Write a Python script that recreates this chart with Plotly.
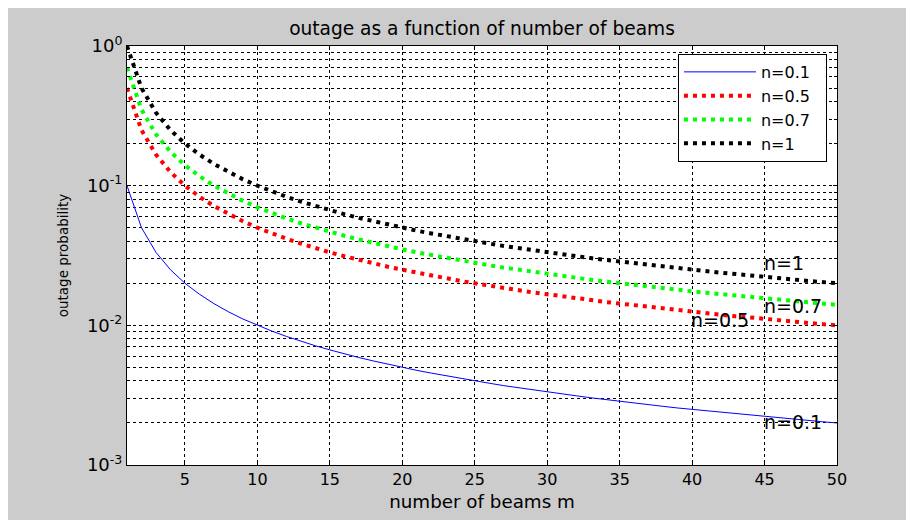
import math
import plotly.graph_objects as go

m = list(range(1, 51))
p_n01 = [0.1, 0.05, 0.0333, 0.025, 0.02, 0.0167, 0.0143, 0.0125, 0.0111, 0.01,
         0.00909, 0.00833, 0.00769, 0.00714, 0.00667, 0.00625, 0.00588, 0.00556, 0.00526, 0.005,
         0.00476, 0.00455, 0.00435, 0.00417, 0.004, 0.00385, 0.0037, 0.00357, 0.00345, 0.00333,
         0.00323, 0.00313, 0.00303, 0.00294, 0.00286, 0.00278, 0.0027, 0.00263, 0.00256, 0.0025,
         0.00244, 0.00238, 0.00233, 0.00227, 0.00222, 0.00217, 0.00213, 0.00208, 0.00204, 0.002]
p_n05 = [0.5, 0.25, 0.167, 0.125, 0.1, 0.0833, 0.0714, 0.0625, 0.0556, 0.05,
         0.0455, 0.0417, 0.0385, 0.0357, 0.0333, 0.03125, 0.0294, 0.0278, 0.0263, 0.025,
         0.0238, 0.0227, 0.0217, 0.0208, 0.02, 0.0192, 0.0185, 0.0179, 0.0172, 0.0167,
         0.0161, 0.0156, 0.0152, 0.0147, 0.0143, 0.0139, 0.0135, 0.0132, 0.0128, 0.0125,
         0.0122, 0.0119, 0.0116, 0.0114, 0.0111, 0.0109, 0.0106, 0.0104, 0.0102, 0.01]
p_n07 = [0.7, 0.35, 0.233, 0.175, 0.14, 0.117, 0.1, 0.0875, 0.0778, 0.07,
         0.0636, 0.0583, 0.0538, 0.05, 0.0467, 0.0438, 0.0412, 0.0389, 0.0368, 0.035,
         0.0333, 0.0318, 0.0304, 0.0292, 0.028, 0.0269, 0.0259, 0.025, 0.0241, 0.0233,
         0.0226, 0.0219, 0.0212, 0.0206, 0.02, 0.0194, 0.0189, 0.0184, 0.0179, 0.0175,
         0.0171, 0.0167, 0.0163, 0.0159, 0.0156, 0.0152, 0.0149, 0.0146, 0.0143, 0.014]
p_n1 = [1.0, 0.5, 0.333, 0.25, 0.2, 0.167, 0.143, 0.125, 0.111, 0.1,
        0.0909, 0.0833, 0.0769, 0.0714, 0.0667, 0.0625, 0.0588, 0.0556, 0.0526, 0.05,
        0.0476, 0.0455, 0.0435, 0.0417, 0.04, 0.0385, 0.037, 0.0357, 0.0345, 0.0333,
        0.0323, 0.0313, 0.0303, 0.0294, 0.0286, 0.0278, 0.027, 0.0263, 0.0256, 0.025,
        0.0244, 0.0238, 0.0233, 0.0227, 0.0222, 0.0217, 0.0213, 0.0208, 0.0204, 0.02]

series_names = ["n=0.1", "n=0.5", "n=0.7", "n=1"]
series_colors = ["#0000ff", "#ff0000", "#00ff00", "#000000"]

x_ticks = [5, 10, 15, 20, 25, 30, 35, 40, 45, 50]
y_major = [0.001, 0.01, 0.1, 1]
y_major_text = ["10<sup>-3</sup>", "10<sup>-2</sup>", "10<sup>-1</sup>", "10<sup>0</sup>"]
y_minor = [k * d for d in [0.001, 0.01, 0.1] for k in range(2, 10)]

label_x = [45, 45, 40, 45]
label_y = [0.028, 0.0137, 0.011, 0.00203]
label_text = ["n=1", "n=0.7", "n=0.5", "n=0.1"]

font = "DejaVu Sans, Verdana, sans-serif"
pad = "\u00a0" * 2

fig = go.Figure()
for ys, name, col in zip([p_n01, p_n05, p_n07, p_n1], series_names, series_colors):
    if name == "n=0.1":
        line = dict(color=col, width=1)
    else:
        line = dict(color=col, width=4, dash="4px,5px")
    fig.add_trace(go.Scatter(x=m, y=ys, mode="lines", name=name + pad, line=line))

for lx, ly, lt in zip(label_x, label_y, label_text):
    fig.add_annotation(x=lx, y=math.log10(ly), yref="y", xref="x", text=lt,
                       showarrow=False, xanchor="left", yanchor="middle",
                       xshift=-3,
                       font=dict(family=font, size=19, color="black"))

grid = dict(showgrid=True, gridcolor="black", griddash="dot", gridwidth=1)

fig.update_layout(
    width=906, height=512,
    paper_bgcolor="#cccccc", plot_bgcolor="white",
    margin=dict(l=119, r=77, t=38, b=52),
    title=dict(text="outage as a function of number of beams", x=0.5, xref="paper",
               xanchor="center",
               y=1 - 20 / 512, yanchor="middle",
               font=dict(family=font, size=18.6, color="black")),
    font=dict(family=font, size=15, color="black"),
    legend=dict(x=0.776, y=0.981, xanchor="left", yanchor="top",
                bgcolor="white", bordercolor="black", borderwidth=1,
                itemwidth=72,
                font=dict(family=font, size=16, color="black")),
    xaxis=dict(range=[1, 50], tickvals=x_ticks, **grid, showline=True, linecolor="black",
               linewidth=1, mirror="ticks", ticks="inside", ticklen=4,
               tickcolor="black", zeroline=False, tickfont=dict(size=16),
               title=dict(text="number of beams m", font=dict(size=18.3), standoff=6)),
    yaxis=dict(type="log", range=[-3, 0], tickvals=y_major, ticktext=y_major_text,
               **grid,
               minor=dict(tickvals=y_minor, ticks="inside", ticklen=3,
                          tickcolor="black", **grid),
               showline=True, linecolor="black", linewidth=1, mirror="ticks",
               ticks="inside", ticklen=4, tickcolor="black", zeroline=False,
               tickfont=dict(size=18),
               title=dict(text="outage probability", font=dict(size=13.5), standoff=15)),
)

fig.write_html("out.html")
